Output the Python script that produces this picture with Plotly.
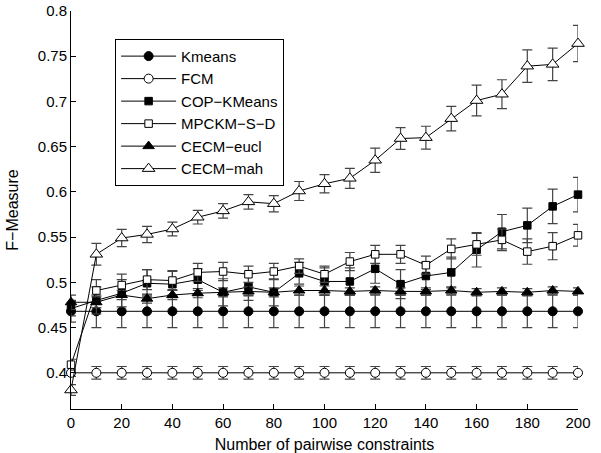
import plotly.graph_objects as go

x = [0, 10, 20, 30, 40, 50, 60, 70, 80, 90, 100, 110, 120, 130, 140, 150, 160, 170, 180, 190, 200]

kmeans = [0.468] * 21
kmeans_err = [0.012] + [0.018] * 20

fcm = [0.400] * 21
fcm_err = [0.004] + [0.007] * 20

cop = [0.471, 0.480, 0.488, 0.499, 0.498, 0.503, 0.489, 0.495, 0.489, 0.510, 0.501,
       0.501, 0.515, 0.498, 0.507, 0.511, 0.536, 0.556, 0.563, 0.584, 0.597]
cop_err = [0.008, 0.015, 0.015, 0.015, 0.015, 0.012, 0.015, 0.015, 0.015, 0.012, 0.015,
           0.015, 0.016, 0.016, 0.015, 0.017, 0.019, 0.019, 0.019, 0.019, 0.019]

mpckm = [0.409, 0.491, 0.497, 0.503, 0.502, 0.511, 0.512, 0.509, 0.512, 0.518, 0.509,
         0.523, 0.531, 0.531, 0.519, 0.537, 0.542, 0.547, 0.534, 0.540, 0.552]
mpckm_err = [0.006, 0.012, 0.012, 0.011, 0.010, 0.010, 0.010, 0.009, 0.009, 0.008, 0.009,
             0.010, 0.010, 0.010, 0.010, 0.011, 0.012, 0.012, 0.014, 0.015, 0.012]

eucl = [0.478, 0.478, 0.486, 0.482, 0.486, 0.488, 0.489, 0.490, 0.489, 0.491, 0.491,
        0.490, 0.491, 0.490, 0.490, 0.491, 0.489, 0.490, 0.489, 0.491, 0.490]
eucl_err = [0.008, 0.006, 0.005, 0.005, 0.005, 0.005, 0.005, 0.005, 0.005, 0.005, 0.005,
            0.004, 0.004, 0.004, 0.004, 0.004, 0.004, 0.004, 0.004, 0.004, 0.004]

mah = [0.381, 0.531, 0.549, 0.553, 0.559, 0.572, 0.579, 0.589, 0.587, 0.601, 0.609,
       0.615, 0.635, 0.659, 0.660, 0.681, 0.701, 0.708, 0.739, 0.741, 0.764]
mah_err = [0.006, 0.012, 0.0095, 0.009, 0.0075, 0.0075, 0.008, 0.008, 0.009, 0.0105, 0.010,
           0.011, 0.0135, 0.012, 0.0126, 0.0135, 0.017, 0.016, 0.018, 0.018, 0.020]

names = ["Kmeans", "FCM", "COP\u2212KMeans", "MPCKM\u2212S\u2212D", "CECM\u2212eucl", "CECM\u2212mah"]
series = [kmeans, fcm, cop, mpckm, eucl, mah]
errors = [kmeans_err, fcm_err, cop_err, mpckm_err, eucl_err, mah_err]
symbols = ["circle", "circle", "square", "square", "triangle-up", "triangle-up"]
fills = ["black", "white", "black", "white", "black", "white"]
sizes = [9, 9, 7.5, 7.5, 10, 11]

fig = go.Figure()
for i in range(6):
    fig.add_trace(go.Scatter(
        x=x, y=series[i], name=names[i], mode="lines+markers",
        line=dict(color="black", width=1),
        marker=dict(symbol=symbols[i], color=fills[i], size=sizes[i],
                    line=dict(color="black", width=1)),
        error_y=dict(type="data", array=errors[i], visible=True,
                     color="#444", thickness=1.2, width=5),
        cliponaxis=False, legendgroup=str(i),
    ))

font = dict(family="Liberation Sans, Arial, sans-serif", size=15, color="black")
tfont = dict(family="Liberation Sans, Arial, sans-serif", size=16, color="black")

fig.update_layout(
    width=601, height=453,
    margin=dict(l=71, r=23, t=11, b=44, autoexpand=False),
    paper_bgcolor="white", plot_bgcolor="white",
    font=font,
    showlegend=True,
    legend=dict(x=0.087, y=0.93, xanchor="left", yanchor="top",
                bordercolor="black", borderwidth=1, bgcolor="white",
                font=font, tracegroupgap=0, itemwidth=55),
    xaxis=dict(range=[0, 200], tickvals=list(range(0, 201, 20)),
               ticks="inside", ticklen=5, tickcolor="black",
               showline=True, linecolor="black", linewidth=1,
               showgrid=False, zeroline=False, mirror=False, automargin=False,
               tickfont=font,
               title=dict(text="Number of pairwise constraints", font=tfont)),
    yaxis=dict(range=[0.36, 0.8],
               tickvals=[0.4, 0.45, 0.5, 0.55, 0.6, 0.65, 0.7, 0.75, 0.8],
               ticktext=["0.4", "0.45", "0.5", "0.55", "0.6", "0.65", "0.7", "0.75", "0.8"],
               ticks="inside", ticklen=5, tickcolor="black",
               showline=True, linecolor="black", linewidth=1,
               showgrid=False, zeroline=False, mirror=False, automargin=False,
               tickfont=font,
               title=dict(text="F\u2212Measure", font=tfont)),
)

fig.write_html("out.html", config={"displayModeBar": False},
               post_script="document.body.style.margin='0';")
